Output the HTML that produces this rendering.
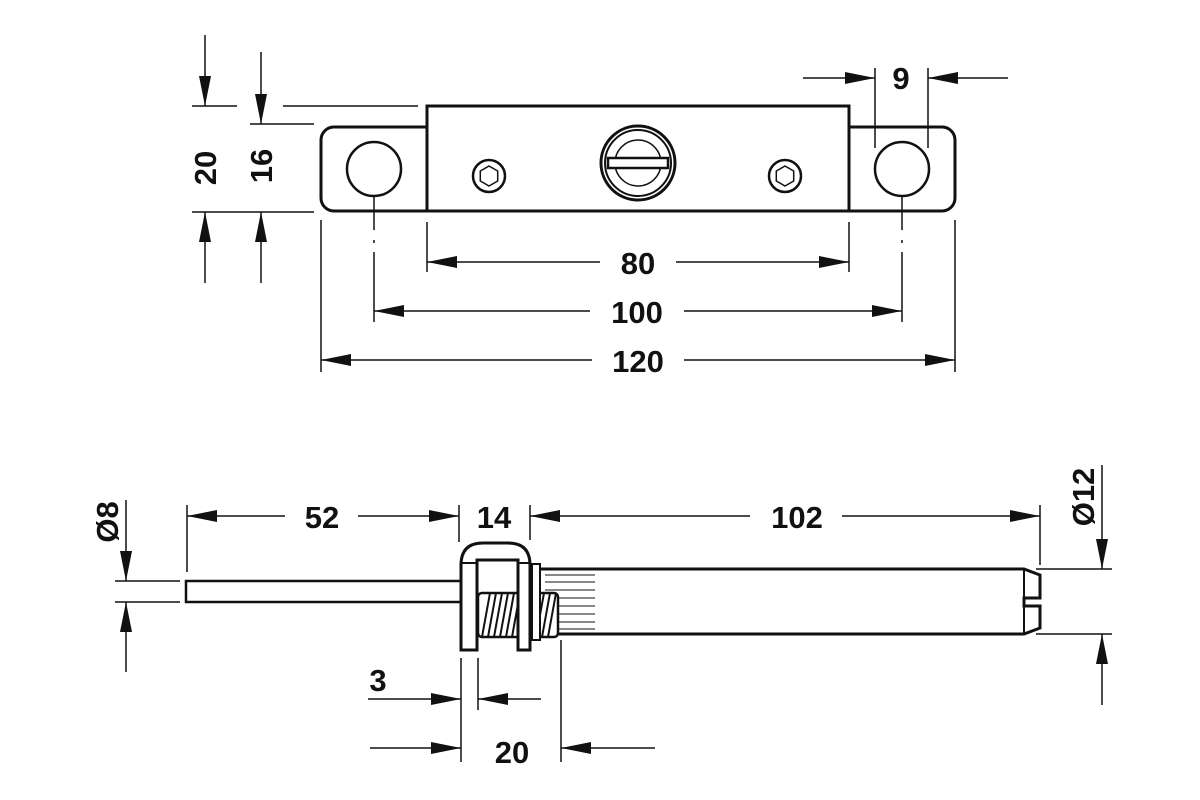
<!DOCTYPE html>
<html><head><meta charset="utf-8"><style>
html,body{margin:0;padding:0;background:#fff}
svg{display:block}
text{font-family:"Liberation Sans",sans-serif;font-weight:bold;font-size:31px;fill:#111}
</style></head><body>
<svg width="1200" height="800" viewBox="0 0 1200 800" xmlns="http://www.w3.org/2000/svg">
<defs>
<marker id="a" viewBox="0 0 30 12" refX="30" refY="6" markerWidth="30" markerHeight="12" markerUnits="userSpaceOnUse" orient="auto">
<path d="M0,0 L30,6 L0,12 Z" fill="#111"/></marker>
</defs>
<g stroke="#111" fill="none">
<!-- TOP VIEW -->
<rect x="321" y="127" width="634" height="84" rx="13" stroke-width="3"/>
<rect x="427" y="106" width="422" height="105" stroke-width="3" fill="#fff"/>
<circle cx="374" cy="169" r="27" stroke-width="2.5"/>
<circle cx="902" cy="169" r="27" stroke-width="2.5"/>
<!-- hex screws -->
<circle cx="489" cy="176" r="16" stroke-width="2.5"/>
<polygon points="489,166 497.7,171 497.7,181 489,186 480.3,181 480.3,171" stroke-width="1.5"/>
<circle cx="785" cy="176" r="16" stroke-width="2.5"/>
<polygon points="785,166 793.7,171 793.7,181 785,186 776.3,181 776.3,171" stroke-width="1.5"/>
<!-- knob -->
<circle cx="638" cy="163" r="37" stroke-width="3"/>
<circle cx="638" cy="163" r="33" stroke-width="2"/>
<circle cx="638" cy="163" r="23" stroke-width="1.5"/>
<rect x="608" y="158" width="60" height="10" stroke-width="2.5" fill="#fff"/>
<!-- center lines -->
<line x1="374" y1="196" x2="374" y2="230" stroke-width="1.5"/>
<line x1="374" y1="240" x2="374" y2="243" stroke-width="1.5"/>
<line x1="374" y1="252" x2="374" y2="322" stroke-width="1.5"/>
<line x1="902" y1="196" x2="902" y2="230" stroke-width="1.5"/>
<line x1="902" y1="240" x2="902" y2="243" stroke-width="1.5"/>
<line x1="902" y1="252" x2="902" y2="322" stroke-width="1.5"/>
<g stroke-width="1.5">
<!-- 20 / 16 -->
<line x1="192" y1="106" x2="237" y2="106"/>
<line x1="283" y1="106" x2="418" y2="106"/>
<line x1="250" y1="124" x2="314" y2="124"/>
<line x1="192" y1="212" x2="314" y2="212"/>
<line x1="205" y1="35" x2="205" y2="106" marker-end="url(#a)"/>
<line x1="205" y1="283" x2="205" y2="212" marker-end="url(#a)"/>
<line x1="261" y1="52" x2="261" y2="124" marker-end="url(#a)"/>
<line x1="261" y1="283" x2="261" y2="212" marker-end="url(#a)"/>
<!-- 9 -->
<line x1="875" y1="68" x2="875" y2="148"/>
<line x1="928" y1="68" x2="928" y2="148"/>
<line x1="803" y1="78" x2="875" y2="78" marker-end="url(#a)"/>
<line x1="1008" y1="78" x2="928" y2="78" marker-end="url(#a)"/>
<!-- 80 / 100 / 120 -->
<line x1="427" y1="222" x2="427" y2="272"/>
<line x1="849" y1="222" x2="849" y2="272"/>
<line x1="321" y1="220" x2="321" y2="372"/>
<line x1="955" y1="220" x2="955" y2="372"/>
<line x1="600" y1="262" x2="427" y2="262" marker-end="url(#a)"/>
<line x1="676" y1="262" x2="849" y2="262" marker-end="url(#a)"/>
<line x1="590" y1="311" x2="374" y2="311" marker-end="url(#a)"/>
<line x1="684" y1="311" x2="902" y2="311" marker-end="url(#a)"/>
<line x1="592" y1="360" x2="321" y2="360" marker-end="url(#a)"/>
<line x1="684" y1="360" x2="955" y2="360" marker-end="url(#a)"/>
</g>
<!-- SIDE VIEW -->
<rect x="186" y="581" width="276" height="21" stroke-width="2.5"/>
<!-- cylinder -->
<path d="M540,569 L1024,569 L1040,575 L1040,598 L1024,598 L1024,606 L1040,606 L1040,628 L1024,634 L540,634" stroke-width="3"/>
<line x1="1024" y1="569" x2="1024" y2="634" stroke-width="2"/>
<g stroke-width="1">
<line x1="545" y1="575" x2="595" y2="575"/><line x1="545" y1="582" x2="595" y2="582"/>
<line x1="545" y1="590" x2="595" y2="590"/><line x1="545" y1="598" x2="595" y2="598"/>
<line x1="545" y1="606" x2="595" y2="606"/><line x1="545" y1="614" x2="595" y2="614"/>
<line x1="545" y1="622" x2="595" y2="622"/><line x1="545" y1="629" x2="595" y2="629"/>
</g>
<!-- thread -->
<rect x="478" y="593" width="80" height="44" rx="4" stroke-width="2.5" fill="#fff"/>
<g stroke-width="2">
<line x1="482" y1="637" x2="490" y2="593"/><line x1="488" y1="637" x2="496" y2="593"/>
<line x1="494" y1="637" x2="502" y2="593"/><line x1="500" y1="637" x2="508" y2="593"/>
<line x1="506" y1="637" x2="514" y2="593"/><line x1="512" y1="637" x2="520" y2="593"/>
<line x1="518" y1="637" x2="526" y2="593"/><line x1="524" y1="637" x2="532" y2="593"/>
<line x1="530" y1="637" x2="538" y2="593"/><line x1="536" y1="637" x2="544" y2="593"/>
<line x1="542" y1="637" x2="550" y2="593"/><line x1="548" y1="637" x2="556" y2="593"/>
</g>
<rect x="532" y="564" width="8" height="76" stroke-width="2" fill="#fff"/>
<!-- U bracket -->
<path d="M461,650 L461,565 Q461,543 483,543 L508,543 Q530,543 530,565 L530,650 L518,650 L518,560 L477,560 L477,650 Z" stroke-width="3" fill="#fff"/>
<line x1="461" y1="563" x2="477" y2="563" stroke-width="2"/>
<line x1="518" y1="563" x2="530" y2="563" stroke-width="2"/>
<g stroke-width="1.5">
<!-- 52/14/102 -->
<line x1="187" y1="505" x2="187" y2="572"/>
<line x1="459" y1="505" x2="459" y2="542"/>
<line x1="530" y1="505" x2="530" y2="540"/>
<line x1="1040" y1="505" x2="1040" y2="565"/>
<line x1="285" y1="516" x2="187" y2="516" marker-end="url(#a)"/>
<line x1="358" y1="516" x2="459" y2="516" marker-end="url(#a)"/>
<line x1="750" y1="516" x2="530" y2="516" marker-end="url(#a)"/>
<line x1="842" y1="516" x2="1040" y2="516" marker-end="url(#a)"/>
<!-- Ø8 -->
<line x1="115" y1="581" x2="180" y2="581"/>
<line x1="115" y1="602" x2="180" y2="602"/>
<line x1="126" y1="500" x2="126" y2="581" marker-end="url(#a)"/>
<line x1="126" y1="672" x2="126" y2="602" marker-end="url(#a)"/>
<!-- Ø12 -->
<line x1="1036" y1="569" x2="1112" y2="569"/>
<line x1="1036" y1="634" x2="1112" y2="634"/>
<line x1="1102" y1="465" x2="1102" y2="569" marker-end="url(#a)"/>
<line x1="1102" y1="705" x2="1102" y2="634" marker-end="url(#a)"/>
<!-- 3 / 20 -->
<line x1="461" y1="658" x2="461" y2="762"/>
<line x1="478" y1="658" x2="478" y2="710"/>
<line x1="561" y1="640" x2="561" y2="762"/>
<line x1="368" y1="699" x2="461" y2="699" marker-end="url(#a)"/>
<line x1="541" y1="699" x2="478" y2="699" marker-end="url(#a)"/>
<line x1="370" y1="748" x2="461" y2="748" marker-end="url(#a)"/>
<line x1="655" y1="748" x2="561" y2="748" marker-end="url(#a)"/>
</g>
</g>
<!-- TEXT -->
<text x="638" y="274" text-anchor="middle">80</text>
<text x="637" y="323" text-anchor="middle">100</text>
<text x="638" y="372" text-anchor="middle">120</text>
<text x="901" y="89" text-anchor="middle">9</text>
<text transform="translate(216,168) rotate(-90)" text-anchor="middle">20</text>
<text transform="translate(272,166) rotate(-90)" text-anchor="middle">16</text>
<text x="322" y="528" text-anchor="middle">52</text>
<text x="494" y="528" text-anchor="middle">14</text>
<text x="797" y="528" text-anchor="middle">102</text>
<text x="378" y="691" text-anchor="middle">3</text>
<text x="512" y="763" text-anchor="middle">20</text>
<text transform="translate(118,522) rotate(-90)" text-anchor="middle">Ø8</text>
<text transform="translate(1094,497) rotate(-90)" text-anchor="middle">Ø12</text>
</svg>
</body></html>
